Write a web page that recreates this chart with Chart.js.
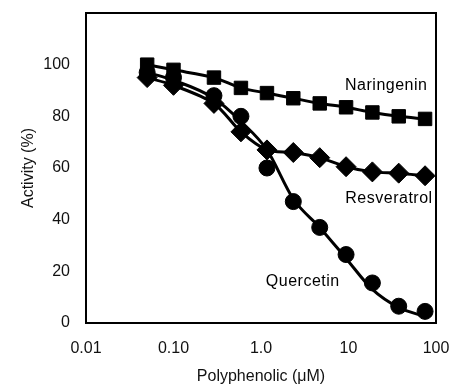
<!DOCTYPE html>
<html>
<head>
<meta charset="utf-8">
<script src="https://cdn.jsdelivr.net/npm/chart.js@4.4.0/dist/chart.umd.min.js"></script>
<style>
  html, body { margin: 0; padding: 0; background: #fff; }
  #wrap { width: 453px; height: 386px; }
</style>
</head>
<body>
<div id="wrap"><canvas id="myChart"></canvas></div>
<script>
// concentrations (uM)
const concentrations = [0.05, 0.1, 0.29, 0.59, 1.17, 2.34, 4.69, 9.38, 18.75, 37.5, 75];
const naringenin = [100, 98, 95, 91, 89, 87, 85, 83.5, 81.5, 80, 79];
const resveratrol = [95, 92, 85, 74, 67, 66, 64, 60.5, 58.5, 58, 57];
const quercetin = [97, 95, 88, 80, 60, 47, 37, 26.5, 15.5, 6.5, 4.5];
// fitted curve drawn through quercetin
const quercetinFit = [97, 94, 87, 78, 67, 48, 37, 25, 13, 6, 2.5];

const xTicks = [0.01, 0.1, 1, 10, 100];
const xTickLabels = ['0.01', '0.10', '1.0', '10', '100'];
const yTicks = [0, 20, 40, 60, 80, 100];

// series name labels: [text, x, y]
const seriesLabels = [
    ['Naringenin', 27, 92],
    ['Resveratrol', 29, 48],
    ['Quercetin', 3.0, 16]
];

const FONT = '"Liberation Sans", Arial, sans-serif';

function pts(ys) {
    return concentrations.map((x, i) => ({ x: x, y: ys[i] }));
}

const boxPlugin = {
    id: 'box',
    afterDraw(chart) {
        const a = chart.chartArea;
        const c = chart.ctx;
        c.save();
        c.strokeStyle = '#000';
        c.lineWidth = 2;
        c.strokeRect(a.left, a.top, a.right - a.left, a.bottom - a.top);
        c.restore();
    }
};

const labelPlugin = {
    id: 'seriesLabels',
    afterDatasetsDraw(chart) {
        const c = chart.ctx;
        const xs = chart.scales.x, ys = chart.scales.y;
        c.save();
        c.fillStyle = '#000';
        c.font = '16px ' + FONT;
        c.letterSpacing = '0.5px';
        c.textAlign = 'center';
        c.textBaseline = 'middle';
        seriesLabels.forEach(l => {
            c.fillText(l[0], xs.getPixelForValue(l[1]), ys.getPixelForValue(l[2]));
        });
        c.restore();
    }
};

const lineStyle = {
    borderColor: '#000',
    backgroundColor: '#000',
    borderWidth: 3,
    pointBorderColor: '#000',
    pointBackgroundColor: '#000',
    pointBorderWidth: 1,
    tension: 0.3,
    fill: false
};

const ctx = document.getElementById('myChart').getContext('2d');
const myChart = new Chart(ctx, {
    type: 'line',
    data: {
        datasets: [
            Object.assign({}, lineStyle, {
                label: 'Naringenin',
                data: pts(naringenin),
                pointStyle: 'rect',
                pointRadius: 9.5
            }),
            Object.assign({}, lineStyle, {
                label: 'Resveratrol',
                data: pts(resveratrol),
                pointStyle: 'rectRot',
                pointRadius: 10
            }),
            Object.assign({}, lineStyle, {
                label: 'Quercetin fit',
                data: pts(quercetinFit),
                pointRadius: 0,
                cubicInterpolationMode: 'monotone'
            }),
            Object.assign({}, lineStyle, {
                label: 'Quercetin',
                data: pts(quercetin),
                pointStyle: 'circle',
                pointRadius: 8,
                showLine: false
            })
        ]
    },
    options: {
        responsive: true,
        maintainAspectRatio: false,
        animation: false,
        layout: { padding: { top: 13, right: 17, left: 15, bottom: 0 } },
        plugins: {
            legend: { display: false },
            tooltip: { enabled: false }
        },
        scales: {
            x: {
                type: 'logarithmic',
                min: 0.01,
                max: 100,
                grid: { display: false, drawOnChartArea: false, tickLength: 3, tickColor: '#bbb' },
                border: { display: true, color: '#000', width: 2 },
                afterBuildTicks: function (scale) {
                    scale.ticks = xTicks.map(v => ({ value: v }));
                },
                ticks: {
                    color: '#111',
                    font: { family: FONT, size: 16 },
                    padding: 13,
                    maxRotation: 0,
                    autoSkip: false,
                    callback: function (v) {
                        const i = xTicks.indexOf(v);
                        return i >= 0 ? xTickLabels[i] : '';
                    }
                },
                title: {
                    display: true,
                    text: 'Polyphenolic (μM)',
                    color: '#111',
                    font: { family: FONT, size: 16 },
                    padding: { top: 6, bottom: 0 }
                },
                afterFit: function (scale) {
                    scale.height = 63;
                    scale.paddingLeft = 0;
                    scale.paddingRight = 0;
                }
            },
            y: {
                min: 0,
                max: 120,
                grid: { display: false, drawOnChartArea: false, tickLength: 3, tickColor: '#bbb' },
                border: { display: true, color: '#000', width: 2 },
                afterBuildTicks: function (scale) {
                    scale.ticks = yTicks.map(v => ({ value: v }));
                },
                ticks: {
                    color: '#111',
                    font: { family: FONT, size: 16 },
                    padding: 13
                },
                title: {
                    display: true,
                    text: 'Activity (%)',
                    color: '#111',
                    font: { family: FONT, size: 16 },
                    padding: { top: 4, bottom: 4 }
                },
                afterFit: function (scale) {
                    scale.width = 71;
                    scale.paddingTop = 0;
                    scale.paddingBottom = 0;
                }
            }
        }
    },
    plugins: [boxPlugin, labelPlugin]
});
</script>
</body>
</html>
